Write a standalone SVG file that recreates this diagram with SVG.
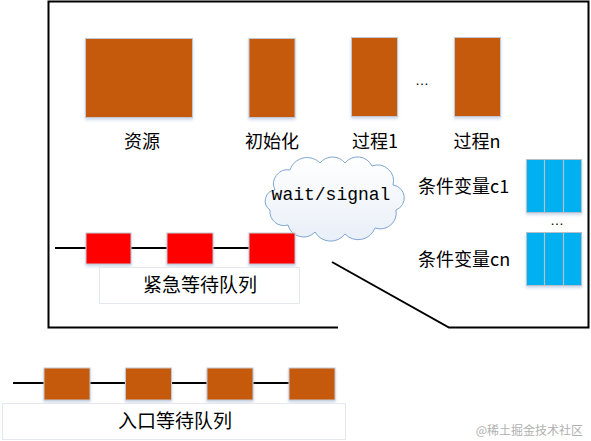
<svg xmlns="http://www.w3.org/2000/svg" width="591" height="441" viewBox="0 0 591 441">
<defs>
<filter id="sh" x="-20%" y="-20%" width="140%" height="150%">
<feDropShadow dx="0" dy="2" stdDeviation="1.5" flood-color="#8fa8d0" flood-opacity="0.45"/>
</filter>
<linearGradient id="cg" x1="0" y1="0" x2="0" y2="1">
<stop offset="0" stop-color="#ffffff"/>
<stop offset="1" stop-color="#e9eff8"/>
</linearGradient>
</defs>
<style>
.brown{fill:#C55A11;stroke:#c3c9d2;stroke-width:1;filter:url(#sh)}
.red{fill:#FF0000;stroke:#c3c9d2;stroke-width:1;filter:url(#sh)}
.blue{fill:#00B0F0;stroke:#b8bfc9;stroke-width:1;filter:url(#sh)}
.div{stroke:#b8bfc9;stroke-width:1.2}
.line{stroke:#000;stroke-width:2;fill:none}
.lbl{fill:#fff;stroke:#e4e8ee;stroke-width:1}
.t{font-family:"Noto Sans CJK SC","Liberation Sans",sans-serif;font-size:18px;fill:#000}
.t19{font-family:"Noto Sans CJK SC","Liberation Sans",sans-serif;font-size:19px;fill:#000}
.mono{font-family:"Liberation Mono","DejaVu Sans Mono",monospace;font-size:18px;fill:#000}
.dots{font-family:"Liberation Sans",sans-serif;font-size:14px;fill:#000}
</style>
<rect width="591" height="441" fill="#fff"/>
<g id="connectors">
<path class="line" d="M338,327.5 H48.5 V1.5 H588.5 V327.5 H449 L332,262"/>
<line class="line" x1="55" y1="248" x2="250" y2="248" stroke-width="1.5"/>
<line class="line" x1="13" y1="383" x2="290" y2="383" stroke-width="1.5"/>
</g>
<g id="resource"><rect class="brown" x="85.5" y="38.5" width="107" height="79"/><text class="t" x="142" y="148" text-anchor="middle">资源</text></g>
<g id="init"><rect class="brown" x="249" y="38.5" width="46" height="79"/><text class="t" x="272" y="148" text-anchor="middle">初始化</text></g>
<g id="proc1"><rect class="brown" x="351.5" y="37.5" width="46" height="79"/><text class="t" x="375" y="148" text-anchor="middle">过程1</text></g>
<g id="dots1"><text class="dots" x="422" y="85" text-anchor="middle">…</text></g>
<g id="procn"><rect class="brown" x="454.5" y="37.5" width="46" height="79"/><text class="t" x="477" y="148" text-anchor="middle">过程n</text></g>
<g id="cloud">
<path d="M275,190 A14,14 0 0 1 290,170 A18,18 0 0 1 320,163 A16,16 0 0 1 345,163 A16,16 0 0 1 372,166 A16,16 0 0 1 393,185 A13,13 0 0 1 396,210 A16,16 0 0 1 375,228 A18,18 0 0 1 345,234 A18,18 0 0 1 315,232 A16,16 0 0 1 288,225 A14,14 0 0 1 270,210 A11,11 0 0 1 275,190 Z" fill="url(#cg)" stroke="#7fa6d3" stroke-width="1"/>
<text class="mono" x="331" y="200" text-anchor="middle">wait/signal</text>
</g>
<g id="cv1">
<text class="t" x="418" y="193">条件变量c1</text>
<rect class="blue" x="526.5" y="159.5" width="55" height="53"/>
<line class="div" x1="544.5" y1="160" x2="544.5" y2="212"/>
<line class="div" x1="563.5" y1="160" x2="563.5" y2="212"/>
</g>
<g id="dots2"><text class="dots" x="557" y="225" text-anchor="middle">…</text></g>
<g id="cvn">
<text class="t" x="418" y="266">条件变量cn</text>
<rect class="blue" x="526.5" y="232.5" width="55" height="53"/>
<line class="div" x1="544.5" y1="233" x2="544.5" y2="285"/>
<line class="div" x1="563.5" y1="233" x2="563.5" y2="285"/>
</g>
<g id="urgent">
<rect class="red" x="86" y="233" width="45" height="31"/>
<rect class="red" x="167" y="233" width="46" height="31"/>
<rect class="red" x="249" y="233" width="46" height="31"/>
<rect class="lbl" x="99.5" y="267.5" width="200" height="36"/>
<text class="t19" x="200" y="292" text-anchor="middle">紧急等待队列</text>
</g>
<g id="entry">
<rect class="brown" x="44" y="368" width="46" height="32"/>
<rect class="brown" x="125.5" y="368" width="46" height="32"/>
<rect class="brown" x="207" y="368" width="46" height="32"/>
<rect class="brown" x="289" y="368" width="46" height="32"/>
<rect class="lbl" x="2.5" y="403.5" width="343" height="36"/>
<text class="t19" x="175" y="428" text-anchor="middle">入口等待队列</text>
</g>
<g id="watermark"><text x="583" y="435" text-anchor="end" font-family="Noto Sans CJK SC,sans-serif" font-size="12" fill="#b0b0b0">@稀土掘金技术社区</text></g>
</svg>
